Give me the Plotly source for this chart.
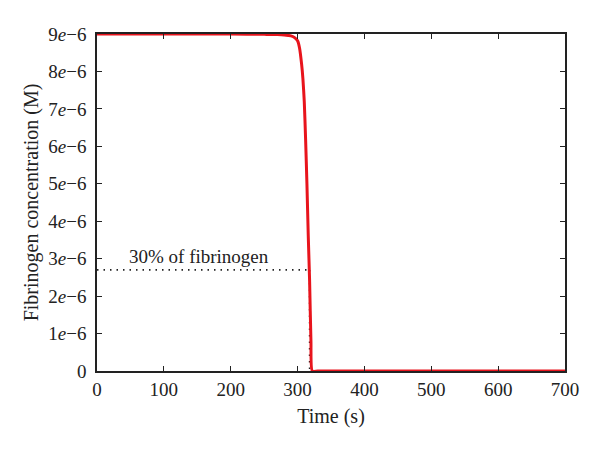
import plotly.graph_objects as go

time_s = [0, 50, 100, 150, 200, 250, 270, 280, 290, 295, 300, 303, 306, 308, 310, 312, 314, 316, 318, 320, 322, 330, 400, 500, 600, 700]
fib_uM = [9.0, 9.0, 9.0, 9.0, 8.997, 8.99, 8.985, 8.975, 8.95, 8.91, 8.82, 8.62, 8.2, 7.8, 7.2, 6.2, 5.0, 3.6, 2.4, 0.8, 0.0, 0.0, 0.0, 0.0, 0.0, 0.0]
fib_M = [v * 1e-6 for v in fib_uM]

threshold_M = 2.7e-6
threshold_t = 318
annot_text = "30% of fibrinogen"

ytick_vals = [i * 1e-6 for i in range(10)]
ytick_text = ["0"] + [f"{i}<i>e</i>−6" for i in range(1, 10)]
xtick_vals = [0, 100, 200, 300, 400, 500, 600, 700]

font_family = "Liberation Serif, Times New Roman, serif"
dot_style = dict(color="#222222", width=1.6, dash="1.5px,5px")

fig = go.Figure()
fig.add_trace(go.Scatter(x=[0, threshold_t], y=[threshold_M, threshold_M], mode="lines",
                         line=dot_style, showlegend=False))
fig.add_trace(go.Scatter(x=[threshold_t, threshold_t], y=[threshold_M, 0], mode="lines",
                         line=dot_style, showlegend=False))
fig.add_trace(go.Scatter(x=time_s, y=fib_M, mode="lines",
                         line=dict(color="#e8141c", width=3, shape="spline", smoothing=0.6),
                         showlegend=False))

fig.add_annotation(x=152, y=3.07e-6, text=annot_text, showarrow=False,
                   font=dict(family=font_family, size=19, color="#222222"))

axis_common = dict(showgrid=False, zeroline=False, showline=True, linecolor="#222222",
                   linewidth=1.5, mirror="ticks", ticks="inside", ticklen=5,
                   tickcolor="#222222", tickwidth=1.2,
                   tickfont=dict(family=font_family, size=19, color="#222222"))

fig.update_xaxes(range=[0, 700], tickvals=xtick_vals,
                 title=dict(text="Time (s)", font=dict(family=font_family, size=20, color="#222222"), standoff=10),
                 **axis_common)
fig.update_yaxes(range=[0, 9e-6], tickvals=ytick_vals, ticktext=ytick_text, ticklabelstandoff=5,
                 title=dict(text="Fibrinogen concentration (M)", font=dict(family=font_family, size=20, color="#222222"), standoff=4),
                 **axis_common)

fig.update_layout(width=600, height=450, margin=dict(l=89, r=43, t=26, b=87, autoexpand=False),
                  plot_bgcolor="white", paper_bgcolor="white")

fig.write_html("out.html")
